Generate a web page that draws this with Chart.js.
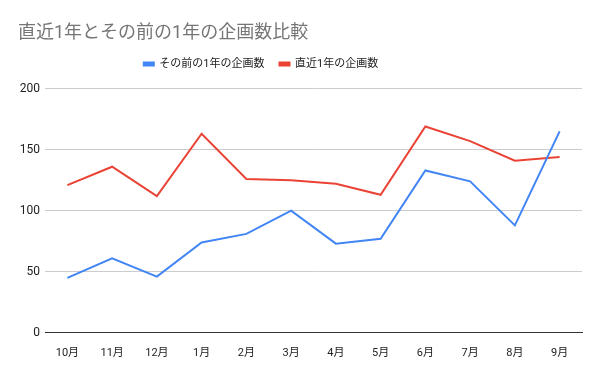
<!DOCTYPE html>
<html><head><meta charset="utf-8">
<script src="https://cdn.jsdelivr.net/npm/chart.js@4"></script>
<style>html,body{margin:0;padding:0;background:#fff}#wrap{width:600px;height:371px}</style>
</head><body><div id="wrap"><canvas id="c"></canvas></div>
<script>
const categories = ['10月','11月','12月','1月','2月','3月','4月','5月','6月','7月','8月','9月'];
const previousYear = [45, 61, 46, 74, 81, 100, 73, 77, 133, 124, 88, 165];
const recentYear = [121, 136, 112, 163, 126, 125, 122, 113, 169, 157, 141, 144];
const seriesNames = ['その前の1年の企画数', '直近1年の企画数'];
const yTicks = [0, 50, 100, 150, 200];

const FONT = 'Roboto, "Noto Sans CJK JP", sans-serif';
const shiftPlugin = {
  id: 'shift',
  afterLayout(chart) {
    if (chart.titleBlock) { chart.titleBlock.left += 18; chart.titleBlock.right += 18; chart.titleBlock.top -= 6; chart.titleBlock.bottom -= 6; }
    if (chart.legend) { chart.legend.left -= 30; chart.legend.right -= 30; chart.legend.top -= 9; chart.legend.bottom -= 9; }
  }
};
new Chart(document.getElementById('c'), {
  type: 'line',
  data: {
    labels: categories,
    datasets: [
      {label: seriesNames[0], data: previousYear, borderColor: '#4285f4', backgroundColor: '#4285f4', borderWidth: 2, pointRadius: 0, tension: 0},
      {label: seriesNames[1], data: recentYear, borderColor: '#ea4335', backgroundColor: '#ea4335', borderWidth: 2, pointRadius: 0, tension: 0}
    ]
  },
  plugins: [shiftPlugin],
  options: {
    responsive: true, maintainAspectRatio: false, animation: false,
    layout: {padding: {left: 0, right: 18, top: 10, bottom: 5}},
    plugins: {
      title: {display: true, text: '直近1年とその前の1年の企画数比較', align: 'start', color: '#757575',
        font: {family: FONT, size: 18, weight: 'normal'}, padding: {top: 19, bottom: 2}},
      legend: {display: true, position: 'top', align: 'center',
        labels: {boxWidth: 10, boxHeight: 3, color: '#222', font: {family: FONT, size: 11}, padding: 15},
      },
      tooltip: {enabled: false}
    },
    scales: {
      x: {offset: true, grid: {display: false}, border: {display: true, color: '#333', width: 1},
        ticks: {color: '#222', font: {family: FONT, size: 11}, maxRotation: 0, padding: 6}},
      y: {min: 0, max: 200, afterBuildTicks: (s) => { s.ticks = yTicks.map(v => ({value: v})); },
        afterFit: (s) => { s.width = 45; },
        grid: {color: '#cccccc', drawTicks: false}, border: {display: false},
        ticks: {color: '#222', font: {family: FONT, size: 12}, padding: 5}}
    }
  }
});
</script></body></html>
